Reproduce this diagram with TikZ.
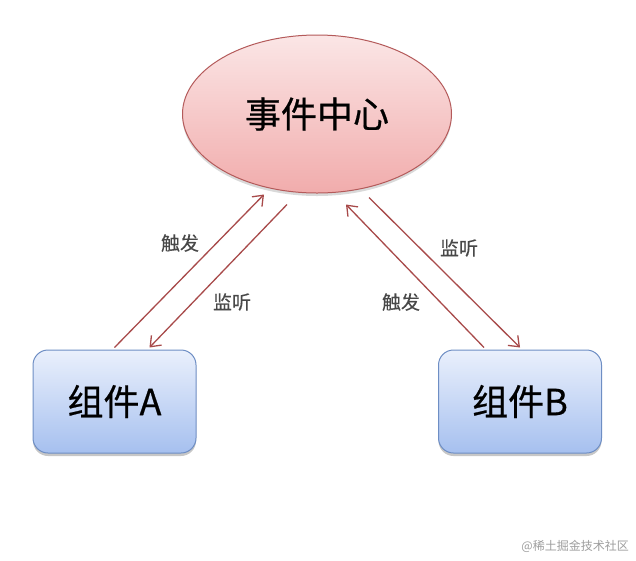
\documentclass[tikz,border=0pt]{standalone}
\usepackage{fontspec}
\newfontfamily\cjk[UprightFeatures={FakeBold=0.25}]{Noto Sans CJK SC}
\newfontfamily\cjkplain{Noto Sans CJK SC}
\newfontfamily\cjkmain[UprightFeatures={FakeBold=0.6}]{Noto Sans CJK SC}
\usetikzlibrary{shapes.geometric,arrows.meta,shadows,calc}
\definecolor{arrowred}{HTML}{A84A4A}
\definecolor{ellborder}{HTML}{B45A5A}
\definecolor{elltop}{HTML}{FBE6E6}
\definecolor{ellbot}{HTML}{F1ACAC}
\definecolor{boxborder}{HTML}{6E8EC4}
\definecolor{boxtop}{HTML}{EAF0FC}
\definecolor{boxbot}{HTML}{A6C0EF}
\definecolor{labelgray}{HTML}{484848}
\begin{document}
\begin{tikzpicture}[x=1pt,y=-1pt,
  center/.style={ellipse, draw=ellborder, line width=1pt, top color=elltop, bottom color=ellbot,
    minimum width=269pt, minimum height=158pt, inner sep=0pt,
    font=\cjkmain\fontsize{36}{40}\selectfont,
    drop shadow={shadow xshift=0pt, shadow yshift=-3pt, opacity=0.15, fill=black}},
  comp/.style={rectangle, rounded corners=15pt, draw=boxborder, line width=1pt, top color=boxtop, bottom color=boxbot,
    minimum width=163pt, minimum height=103pt, inner sep=0pt,
    font=\cjkmain\fontsize{36}{40}\selectfont,
    drop shadow={shadow xshift=0pt, shadow yshift=-3pt, opacity=0.22, fill=black}},
  conn/.style={draw=arrowred, line width=1.3pt, -{Straight Barb[length=9pt,width=14pt,line width=1.3pt]}},
  lbl/.style={text=labelgray, font=\cjk\fontsize{19}{22}\selectfont, inner sep=0pt}
]
\useasboundingbox (0,0) rectangle (636,560);
\fill[white] (0,0) rectangle (636,560);

\node[center] (E) at (317,114) {事件中心};
\node[comp] (A) at (114.5,401.5) {组件A};
\node[comp] (B) at (520,401.5) {组件B};

% left pair
\draw[conn] ([yshift=2pt]A.north) -- ([xshift=-53pt,yshift=-1pt]E.south);
\draw[conn] ([xshift=-30pt,yshift=-11pt]E.south) -- ([xshift=35pt,yshift=2pt]A.north);
% right pair
\draw[conn] ([xshift=-36pt,yshift=2pt]B.north) -- ([xshift=29pt,yshift=-11pt]E.south);
\draw[conn] ([xshift=52pt,yshift=-4pt]E.south) -- ([yshift=2pt]B.north);

\node[lbl] (l1) at (180,243) {触发};
\node[lbl] (l2) at (232,302) {监听};
\node[lbl] (l3) at (459,248) {监听};
\node[lbl] (l4) at (401,302) {触发};

\node[text=black!38, font=\cjkplain\fontsize{12}{14}\selectfont, anchor=east, inner sep=0pt] (wm) at (629,546) {@稀土掘金技术社区};
\end{tikzpicture}
\end{document}
